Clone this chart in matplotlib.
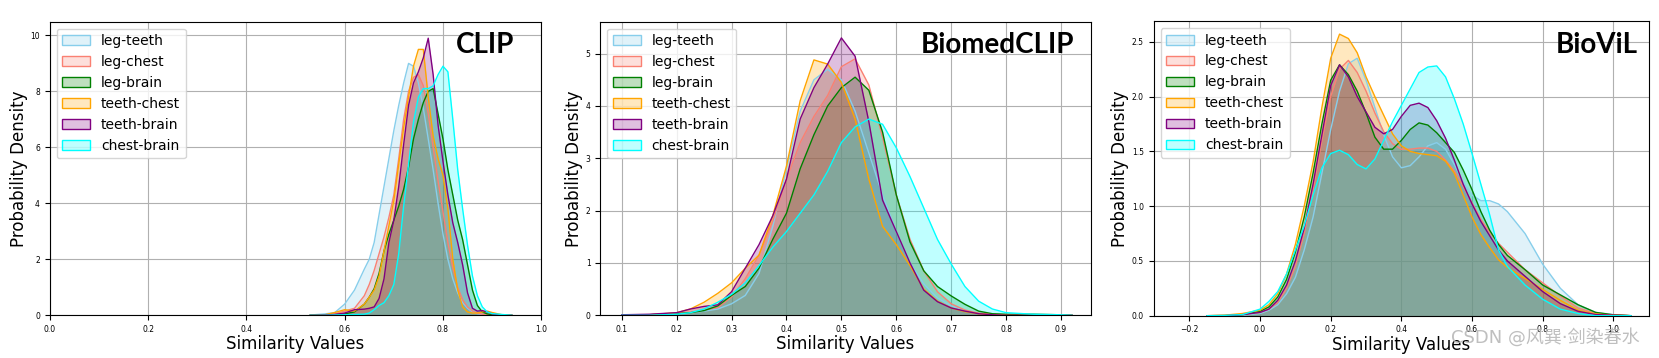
import numpy as np
import matplotlib.pyplot as plt
from matplotlib.patches import Patch
from matplotlib.colors import to_rgba

labels = ['leg-teeth', 'leg-chest', 'leg-brain', 'teeth-chest', 'teeth-brain', 'chest-brain']
colors = ['skyblue', 'salmon', 'green', 'orange', 'purple', 'cyan']

# ---- CLIP ----
clip_x = [0.53, 0.56, 0.58, 0.60, 0.62, 0.64, 0.65, 0.66, 0.67, 0.68, 0.69, 0.70, 0.71, 0.72,
          0.73, 0.74, 0.75, 0.76, 0.77, 0.78, 0.79, 0.80, 0.81, 0.82, 0.83, 0.84, 0.85, 0.86,
          0.87, 0.88, 0.89, 0.90, 0.92, 0.94]
clip_leg_teeth = [0.01, 0.05, 0.1, 0.4, 0.9, 1.65, 2.0, 2.6, 3.6, 4.6, 5.6, 6.6, 7.5, 8.3,
                  9.0, 8.9, 8.3, 7.4, 6.3, 5.2, 4.0, 2.9, 2.0, 1.3, 0.8, 0.45, 0.25, 0.12,
                  0.06, 0.03, 0.01, 0.0, 0.0, 0.0]
clip_leg_chest = [0.0, 0.02, 0.05, 0.15, 0.25, 0.7, 1.1, 1.6, 2.2, 2.8, 3.5, 4.3, 5.6, 7.0,
                  8.0, 8.5, 8.6, 8.2, 7.2, 6.0, 4.8, 3.7, 2.6, 1.7, 1.0, 0.55, 0.3, 0.15,
                  0.08, 0.04, 0.02, 0.01, 0.0, 0.0]
clip_leg_brain = [0.0, 0.01, 0.02, 0.05, 0.12, 0.4, 0.65, 0.95, 1.5, 2.3, 2.9, 3.4, 3.9, 4.5,
                  5.3, 6.3, 7.0, 7.6, 8.0, 8.1, 7.2, 6.3, 5.2, 4.3, 3.4, 2.7, 1.8, 0.9,
                  0.35, 0.12, 0.05, 0.02, 0.0, 0.0]
clip_teeth_chest = [0.0, 0.02, 0.1, 0.2, 0.15, 0.4, 0.65, 0.9, 1.4, 2.3, 3.2, 4.1, 5.4, 6.7,
                    7.8, 8.9, 9.5, 9.5, 7.8, 6.4, 5.6, 5.0, 3.8, 2.0, 0.9, 0.3, 0.12, 0.08,
                    0.08, 0.12, 0.15, 0.1, 0.02, 0.0]
clip_teeth_brain = [0.0, 0.01, 0.03, 0.08, 0.2, 0.22, 0.25, 0.3, 0.6, 1.3, 2.6, 3.4, 4.6, 6.1,
                    7.5, 8.3, 8.7, 9.2, 9.9, 8.6, 6.8, 5.5, 4.3, 3.3, 2.6, 1.8, 0.8, 0.25,
                    0.15, 0.17, 0.12, 0.05, 0.0, 0.0]
clip_chest_brain = [0.0, 0.0, 0.01, 0.02, 0.03, 0.04, 0.08, 0.2, 0.35, 0.45, 0.7, 1.1, 2.2, 3.9,
                    5.4, 6.9, 7.8, 8.1, 8.1, 8.2, 8.6, 8.9, 8.7, 7.0, 5.2, 3.8, 2.5, 1.4,
                    0.7, 0.3, 0.12, 0.06, 0.03, 0.0]

# ---- BiomedCLIP ----
bmc_x = [0.10, 0.15, 0.20, 0.225, 0.25, 0.275, 0.30, 0.325, 0.35, 0.375, 0.40, 0.425, 0.45,
         0.475, 0.50, 0.525, 0.55, 0.575, 0.60, 0.625, 0.65, 0.675, 0.70, 0.725, 0.75, 0.775,
         0.80, 0.85, 0.90, 0.92]
bmc_leg_teeth = [0.0, 0.01, 0.03, 0.05, 0.08, 0.12, 0.22, 0.38, 0.8, 1.7, 2.8, 3.9, 4.5,
                 4.7, 4.5, 3.9, 3.1, 2.3, 1.6, 1.0, 0.6, 0.33, 0.18, 0.09, 0.04, 0.02,
                 0.01, 0.0, 0.0, 0.0]
bmc_leg_chest = [0.0, 0.01, 0.04, 0.06, 0.1, 0.15, 0.35, 0.7, 1.15, 1.8, 2.6, 3.3, 3.8,
                 4.2, 4.75, 4.9, 4.4, 3.4, 2.3, 1.45, 0.85, 0.45, 0.22, 0.1, 0.04, 0.02,
                 0.01, 0.0, 0.0, 0.0]
bmc_leg_brain = [0.0, 0.01, 0.03, 0.05, 0.09, 0.18, 0.38, 0.55, 0.9, 1.45, 1.95, 2.8, 3.45,
                 4.0, 4.35, 4.55, 4.3, 3.5, 2.3, 1.4, 0.85, 0.55, 0.37, 0.21, 0.08, 0.03,
                 0.02, 0.02, 0.01, 0.0]
bmc_teeth_chest = [0.0, 0.01, 0.05, 0.12, 0.25, 0.42, 0.62, 0.9, 1.15, 1.9, 2.85, 4.1, 4.88,
                   4.8, 4.45, 3.75, 2.6, 1.7, 1.35, 0.95, 0.5, 0.27, 0.14, 0.07, 0.03, 0.01,
                   0.0, 0.0, 0.0, 0.0]
bmc_teeth_brain = [0.01, 0.02, 0.05, 0.12, 0.17, 0.2, 0.45, 0.9, 1.35, 1.9, 2.6, 3.75, 4.35,
                   4.8, 5.3, 4.95, 3.7, 2.2, 1.6, 1.0, 0.48, 0.26, 0.14, 0.08, 0.03, 0.01,
                   0.0, 0.0, 0.0, 0.0]
bmc_chest_brain = [0.0, 0.0, 0.02, 0.05, 0.12, 0.25, 0.4, 0.62, 0.95, 1.3, 1.6, 1.95, 2.3,
                   2.75, 3.3, 3.6, 3.75, 3.65, 3.2, 2.65, 2.05, 1.45, 0.98, 0.55, 0.27, 0.12,
                   0.05, 0.02, 0.01, 0.0]

# ---- BioViL ----
bvl_x = [-0.15, -0.10, -0.05, 0.0, 0.025, 0.05, 0.075, 0.10, 0.125, 0.15, 0.175, 0.20, 0.225,
         0.25, 0.275, 0.30, 0.325, 0.35, 0.375, 0.40, 0.425, 0.45, 0.475, 0.50, 0.525, 0.55,
         0.575, 0.60, 0.625, 0.65, 0.675, 0.70, 0.75, 0.80, 0.85, 0.90, 0.95, 1.00, 1.05]
bvl_leg_teeth = [0.0, 0.0, 0.005, 0.02, 0.05, 0.1, 0.2, 0.35, 0.6, 0.9, 1.3, 1.7, 2.05,
                 2.3, 2.35, 2.15, 1.9, 1.65, 1.45, 1.35, 1.37, 1.45, 1.55, 1.58, 1.52, 1.38,
                 1.22, 1.1, 1.05, 1.05, 1.02, 0.95, 0.75, 0.47, 0.25, 0.1, 0.03, 0.01, 0.0]
bvl_leg_chest = [0.0, 0.005, 0.01, 0.03, 0.06, 0.12, 0.25, 0.45, 0.75, 1.15, 1.6, 2.0, 2.25,
                 2.33, 2.22, 2.05, 1.85, 1.68, 1.57, 1.52, 1.52, 1.53, 1.53, 1.5, 1.42, 1.32,
                 1.18, 1.03, 0.88, 0.76, 0.66, 0.58, 0.42, 0.3, 0.18, 0.07, 0.02, 0.005, 0.0]
bvl_leg_brain = [0.0, 0.0, 0.01, 0.04, 0.08, 0.17, 0.33, 0.58, 0.9, 1.3, 1.75, 2.15, 2.29,
                 2.2, 2.05, 1.85, 1.63, 1.52, 1.52, 1.6, 1.7, 1.76, 1.74, 1.67, 1.58, 1.49,
                 1.33, 1.15, 0.95, 0.78, 0.65, 0.55, 0.42, 0.28, 0.19, 0.1, 0.03, 0.008, 0.0]
bvl_teeth_chest = [0.0, 0.005, 0.02, 0.05, 0.1, 0.2, 0.38, 0.65, 1.0, 1.4, 1.9, 2.35, 2.57,
                   2.53, 2.4, 2.18, 2.0, 1.83, 1.66, 1.55, 1.5, 1.48, 1.47, 1.46, 1.41, 1.3,
                   1.1, 0.9, 0.74, 0.62, 0.51, 0.44, 0.34, 0.24, 0.14, 0.05, 0.015, 0.005, 0.0]
bvl_teeth_brain = [0.0, 0.0, 0.01, 0.03, 0.06, 0.14, 0.28, 0.5, 0.8, 1.2, 1.65, 2.1, 2.29,
                   2.18, 2.0, 1.86, 1.72, 1.66, 1.7, 1.82, 1.92, 1.94, 1.9, 1.78, 1.62, 1.42,
                   1.2, 1.02, 0.86, 0.73, 0.6, 0.5, 0.36, 0.22, 0.11, 0.04, 0.01, 0.005, 0.0]
bvl_chest_brain = [0.0, 0.003, 0.01, 0.06, 0.13, 0.22, 0.38, 0.6, 0.82, 1.1, 1.35, 1.48, 1.51,
                   1.47, 1.38, 1.34, 1.43, 1.6, 1.77, 1.92, 2.07, 2.22, 2.27, 2.28, 2.18, 1.98,
                   1.75, 1.48, 1.2, 0.92, 0.6, 0.45, 0.28, 0.15, 0.06, 0.02, 0.0, 0.0, 0.0]

panels = [
    ('CLIP', clip_x, [clip_leg_teeth, clip_leg_chest, clip_leg_brain,
                      clip_teeth_chest, clip_teeth_brain, clip_chest_brain]),
    ('BiomedCLIP', bmc_x, [bmc_leg_teeth, bmc_leg_chest, bmc_leg_brain,
                           bmc_teeth_chest, bmc_teeth_brain, bmc_chest_brain]),
    ('BioViL', bvl_x, [bvl_leg_teeth, bvl_leg_chest, bvl_leg_brain,
                       bvl_teeth_chest, bvl_teeth_brain, bvl_chest_brain]),
]

# axes boxes in pixels (left, top, right, bottom) of the 1659x358 picture
W, H = 1659, 358
boxes = [(49.7, 21.7, 541.3, 315.3), (600.3, 21.7, 1090.7, 315.3), (1153.7, 21.0, 1648.7, 315.7)]
xlims = [(0.0, 1.0), (0.061, 0.954), (-0.301, 1.1)]
ylims = [(0, 10.49), (0, 5.61), (0, 2.69)]
xticks = [np.arange(0, 1.01, 0.2), np.arange(0.1, 0.91, 0.1), np.arange(-0.2, 1.01, 0.2)]
yticks = [np.arange(0, 11, 2), np.arange(0, 6, 1), np.arange(0, 2.6, 0.5)]
title_pos = [(0.886, 0.921), (0.809, 0.921), (0.896, 0.919)]

fig = plt.figure(figsize=(W / 100, H / 100), dpi=100)

for i, (name, xs, curves) in enumerate(panels):
    l, t, r, b = boxes[i]
    ax = fig.add_axes([l / W, (H - b) / H, (r - l) / W, (b - t) / H])
    for ys, c in zip(curves, colors):
        ax.fill_between(xs, ys, 0, color=c, alpha=0.25, lw=0)
        ax.plot(xs, ys, color=c, lw=1)
    ax.set_xlim(*xlims[i])
    ax.set_ylim(*ylims[i])
    ax.set_xticks(xticks[i])
    ax.set_yticks(yticks[i])
    ax.tick_params(labelsize=5.5)
    ax.grid(True)
    ax.set_axisbelow(True)
    ax.set_xlabel('Similarity Values', fontsize=12, labelpad=1)
    ax.set_ylabel('Probability Density', fontsize=12, labelpad=2)
    handles = [Patch(facecolor=to_rgba(c, 0.25), edgecolor=c) for c in colors]
    ax.legend(handles, labels, loc='upper left', fontsize=10)
    ax.text(title_pos[i][0], title_pos[i][1], name, transform=ax.transAxes,
            ha='center', va='center', fontsize=20, fontweight='bold', family='Lato')

fig.text(1545 / W, 1 - 337 / H, 'CSDN @风巽·剑染春水', ha='center', va='center',
         fontsize=13, color='#b8b8b8', alpha=0.9,
         family=['DejaVu Sans', 'Noto Sans CJK SC'])

fig.savefig('out.png', dpi=100)
